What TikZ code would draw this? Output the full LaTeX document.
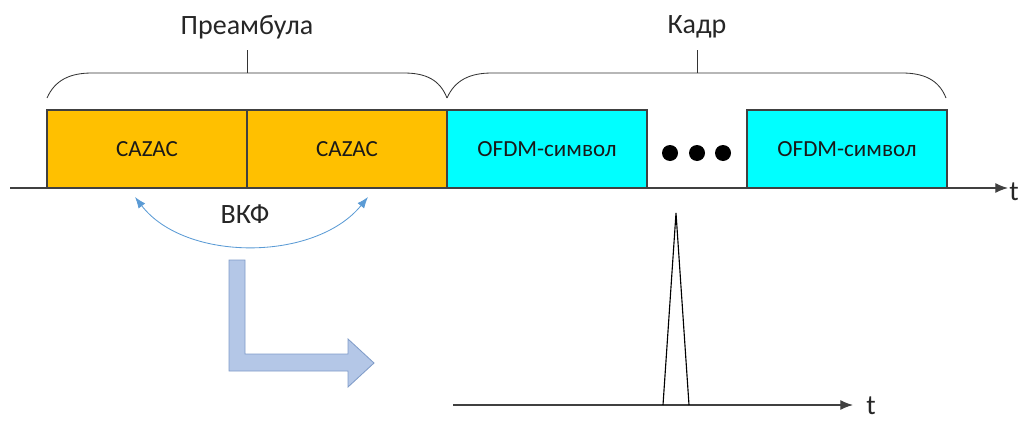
\documentclass[tikz,border=0pt]{standalone}
\usepackage{fontspec}
\setmainfont{Carlito}
\usetikzlibrary{arrows.meta}
\definecolor{cazacfill}{HTML}{FFC000}
\definecolor{ofdmfill}{HTML}{00FFFF}
\definecolor{vkfblue}{HTML}{5B9BD5}
\definecolor{turnfill}{HTML}{B4C7E7}
\definecolor{turnline}{HTML}{7F9BC8}
\tikzset{
  slot/.style={draw=black!75, line width=0.8pt, minimum width=5cm, minimum height=1.95cm,
    inner sep=0pt, font=\fontsize{16.4}{18}\selectfont, text=black!90},
  cazac/.style={slot, fill=cazacfill},
  ofdm/.style={slot, fill=ofdmfill},
  axis/.style={draw=black!75, line width=0.8pt, -{Latex[length=9pt,width=7pt]}},
  brace/.style={draw=black!80, line width=0.6pt},
  title/.style={font=\fontsize{19.9}{22}\selectfont, text=black!85, inner sep=0pt},
  vkf/.style={draw=vkfblue, line width=0.6pt,
    {Latex[length=8pt,width=6pt]}-{Latex[length=8pt,width=6pt]}},
  turn/.style={draw=turnline, fill=turnfill, line width=0.6pt},
}
\begin{document}
\begin{tikzpicture}[x=0.025cm, y=-0.025cm]
  \useasboundingbox (0,0) rectangle (1018,421);

  \coordinate (a0) at (10,188);
  \coordinate (a1) at (1008,188);
  \draw[axis] (a0) -- (a1);
  \node[title] (t0) at (1014,192) {t};

  \node[cazac] (0) at (147,149) {CAZAC};
  \node[cazac] (1) at (347,149) {CAZAC};
  \node[ofdm] (2) at (547,149) {OFDM-символ};
  \node[ofdm] (3) at (847,149) {OFDM-символ};
  \foreach \x in {670,697,723}
    \fill (\x,153) circle (8);

  \draw[brace] (47,98) .. controls (55,80) and (70,73) .. (92,73) -- (404,73)
    .. controls (426,73) and (440,80) .. (447,98);
  \draw[brace] (247,73) -- (247,50);
  \node[title] (pre) at (247,27) {Преамбула};

  \draw[brace] (447,98) .. controls (455,80) and (470,73) .. (492,73) -- (902,73)
    .. controls (924,73) and (939,80) .. (946,98);
  \draw[brace] (697,73) -- (697,50);
  \node[title] (kadr) at (697,27) {Кадр};

  \coordinate (v0) at (135,197);
  \coordinate (v1) at (368,197);
  \draw[vkf] (v0) .. controls (185,262) and (315,262) .. (v1);
  \node[title] (vkf) at (245,214) {ВКФ};

  \draw[turn] (229,260) -- (245,260) -- (245,354) -- (348,354) -- (348,339)
    -- (374,363) -- (348,387) -- (348,371) -- (229,371) -- cycle;

  \coordinate (b0) at (453,405);
  \coordinate (b1) at (853,405);
  \draw[axis] (b0) -- (b1);
  \node[title] (t1) at (871,406) {t};
  \draw[line width=0.8pt, line join=miter] (663,405) -- (676,213) -- (689,405);
\end{tikzpicture}
\end{document}
